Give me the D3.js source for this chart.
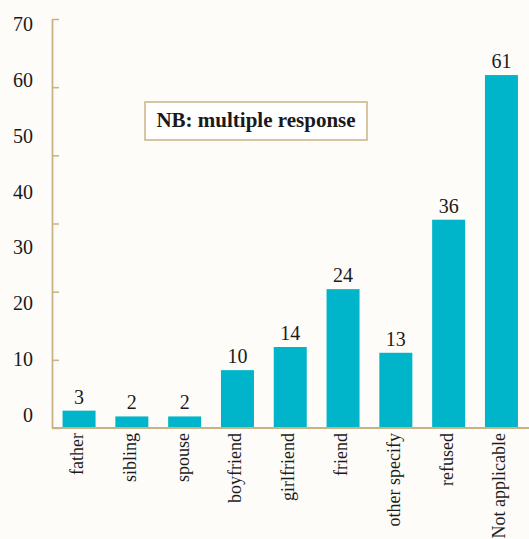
<!DOCTYPE html>
<html>
<head>
<meta charset="utf-8">
<script src="https://cdn.jsdelivr.net/npm/d3@7"></script>
<style>
  html, body { margin: 0; padding: 0; background: #fefcf8; }
  svg text { font-family: "Liberation Serif", "DejaVu Serif", serif; fill: #1a1a1a; }
</style>
</head>
<body>
<div id="chart"></div>
<script>
// Who was told - bar chart with a value label on each bar
const categories = ["father", "sibling", "spouse", "boyfriend", "girlfriend", "friend", "other specify", "refused", "Not applicable"];
const counts = [3, 2, 2, 10, 14, 24, 13, 36, 61];
const tickLabels = ["70", "60", "50", "40", "30", "20", "10", "0"];
const note = "NB: multiple response";

const width = 529, height = 539;
const margin = { top: 19, left: 52, bottom: 428 };

const barColor = "#00b5c9";
const axisColor = "#c9b283";

const svg = d3.select("#chart")
    .append("svg")
    .attr("width", width)
    .attr("height", height);

// X scale (categories)
const x = d3.scaleBand()
    .domain(categories)
    .range([margin.left, 528.5])
    .paddingInner(0.375)
    .paddingOuter(0.2);

// Y scale for the bars
const y = d3.scaleLinear()
    .domain([0, 70])
    .range([margin.bottom, 23]);

// The printed axis has its own spacing for marks and for labels
const tickScale = d3.scaleLinear()
    .domain([0, 6])
    .range([margin.bottom, margin.top]);
const labelScale = d3.scalePoint()
    .domain(tickLabels)
    .range([24, 415]);

// Bars
svg.selectAll(".bar")
    .data(counts)
    .enter()
    .append("rect")
    .attr("class", "bar")
    .attr("x", (d, i) => x(categories[i]))
    .attr("y", d => y(d))
    .attr("width", x.bandwidth())
    .attr("height", d => y(0) - y(d))
    .attr("fill", barColor);

// Value labels
svg.selectAll(".value")
    .data(counts)
    .enter()
    .append("text")
    .attr("class", "value")
    .attr("x", (d, i) => x(categories[i]) + x.bandwidth() / 2)
    .attr("y", d => y(d) - 7)
    .attr("text-anchor", "middle")
    .style("font-size", "20px")
    .text(d => d);

// Y axis marks
const yAxis = svg.append("g")
    .attr("transform", `translate(${margin.left},0)`)
    .call(d3.axisRight(tickScale).ticks(6).tickFormat("").tickSize(7).tickSizeOuter(0));
yAxis.select(".domain").attr("stroke", axisColor).attr("stroke-width", 1.8);
yAxis.selectAll(".tick line").attr("stroke", axisColor).attr("stroke-width", 1.5);

// Y axis labels
svg.selectAll(".y-label")
    .data(tickLabels)
    .enter()
    .append("text")
    .attr("class", "y-label")
    .attr("x", 33)
    .attr("y", d => labelScale(d))
    .attr("text-anchor", "end")
    .attr("dominant-baseline", "central")
    .style("font-size", "20px")
    .text(d => d);

// Baseline
svg.append("line")
    .attr("x1", margin.left)
    .attr("x2", width)
    .attr("y1", y(0))
    .attr("y2", y(0))
    .attr("stroke", axisColor)
    .attr("stroke-width", 1.8);

// Category labels, rotated
svg.selectAll(".x-label")
    .data(categories)
    .enter()
    .append("text")
    .attr("class", "x-label")
    .attr("transform", d => `translate(${x(d) + x.bandwidth() / 2 - 2},${y(0) + 5}) rotate(-90)`)
    .attr("text-anchor", "end")
    .attr("dominant-baseline", "central")
    .style("font-size", "18px")
    .text(d => d);

// Note box
const noteG = svg.append("g").attr("transform", "translate(145,102)");
noteG.append("rect")
    .attr("width", 222)
    .attr("height", 38)
    .attr("fill", "#fff")
    .attr("stroke", axisColor)
    .attr("stroke-width", 1.5);
noteG.append("text")
    .attr("x", 111)
    .attr("y", 25)
    .attr("text-anchor", "middle")
    .style("font-size", "21px")
    .style("font-weight", "bold")
    .text(note);
</script>
</body>
</html>
